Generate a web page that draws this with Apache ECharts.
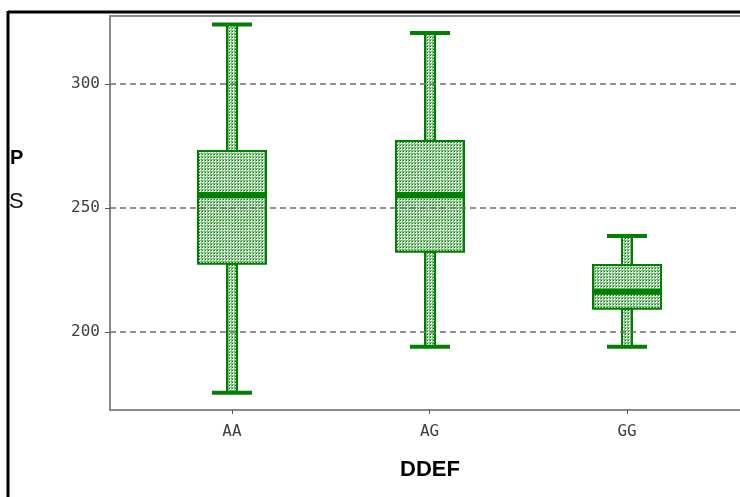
<!DOCTYPE html>
<html><head><meta charset="utf-8">
<script src="https://cdn.jsdelivr.net/npm/echarts@6/dist/echarts.min.js"></script>
<style>html,body{margin:0;padding:0;background:#fff}#c{width:740px;height:497px}</style>
</head><body><div id="c"></div>
<script>
// ---- data ----
const categories = ['AA', 'AG', 'GG'];
const whiskerLow = [175.5, 194, 194];
const q1Values = [227.5, 232.3, 209.3];
const medianValues = [255.2, 255.2, 216.2];
const q3Values = [273, 277, 227];
const whiskerHigh = [324, 320.5, 238.7];
const yTicks = [200, 250, 300];
const xAxisName = 'DDEF';

const GREEN = '#008000';
function makePattern() {
  const c = document.createElement('canvas');
  c.width = 3; c.height = 3;
  const g = c.getContext('2d');
  g.fillStyle = '#ffffff'; g.fillRect(0, 0, 3, 3);
  g.fillStyle = '#7cc47c'; g.fillRect(0, 0, 3, 1); g.fillRect(0, 0, 1, 3);
  g.fillStyle = '#008000'; g.fillRect(1, 1, 1, 1);
  return c;
}
const pattern = { image: makePattern(), repeat: 'repeat' };

const data = categories.map((c, i) => [i + 1, whiskerLow[i], q1Values[i], medianValues[i], q3Values[i], whiskerHigh[i]]);

const chart = echarts.init(document.getElementById('c'), null, { renderer: 'canvas' });
const labelFont = { fontFamily: 'DejaVu Sans Mono, Liberation Mono, monospace', fontSize: 16, color: '#404040' };
const frameColor = '#888888';

chart.setOption({
  animation: false,
  grid: { left: 110, top: 16, right: 0, bottom: 87, show: false },
  xAxis: {
    type: 'value', min: 0.3823, max: 3.572,
    axisLine: { show: true, onZero: false, lineStyle: { color: frameColor, width: 2 } },
    splitLine: { show: false },
    axisTick: { show: true, customValues: [1, 2, 3], length: 4, lineStyle: { color: '#555' } },
    axisLabel: Object.assign({ customValues: [1, 2, 3], formatter: v => categories[Math.round(v) - 1] || '', margin: 14 }, labelFont),
    name: xAxisName, nameLocation: 'middle', nameGap: 49,
    nameTextStyle: { fontFamily: 'Liberation Sans, Arial, sans-serif', fontSize: 22, fontWeight: 'bold', color: '#000', padding: [0, 0, 0, 10] }
  },
  yAxis: {
    type: 'value', min: 168.5, max: 327.4,
    axisLine: { show: true, onZero: false, lineStyle: { color: frameColor, width: 2 } },
    splitLine: { show: false },
    axisTick: { show: true, customValues: yTicks, length: 5, lineStyle: { color: '#555' } },
    axisLabel: Object.assign({ customValues: yTicks, margin: 10 }, labelFont)
  },
  graphic: [
    { type: 'line', shape: { x1: 8, y1: 12, x2: 740, y2: 12 }, style: { stroke: '#000', lineWidth: 3 } },
    { type: 'line', shape: { x1: 8, y1: 11, x2: 8, y2: 497 }, style: { stroke: '#000', lineWidth: 3 } },
    { type: 'line', shape: { x1: 109, y1: 16, x2: 740, y2: 16 }, style: { stroke: frameColor, lineWidth: 2 } },
    { type: 'text', left: 10, top: 148, style: { text: 'P', font: 'bold 20px Liberation Sans, Arial, sans-serif', fill: '#000' } },
    { type: 'text', left: 9, top: 191, style: { text: 'S', font: '22px Liberation Sans, Arial, sans-serif', fill: '#111' } }
  ],
  series: [
    {
      type: 'line', data: [], silent: true,
      markLine: {
        symbol: 'none', silent: true, label: { show: false },
        lineStyle: { color: '#6e6e6e', type: [6, 4], width: 1.5 },
        data: yTicks.map(v => ({ yAxis: v }))
      }
    },
    {
      type: 'custom', data: data, clip: false,
      renderItem: function (params, api) {
        const x = api.value(0);
        const pMin = api.coord([x, api.value(1)]);
        const pQ1 = api.coord([x, api.value(2)]);
        const pMed = api.coord([x, api.value(3)]);
        const pQ3 = api.coord([x, api.value(4)]);
        const pMax = api.coord([x, api.value(5)]);
        const cx = Math.round(pMin[0]);
        const bw = 68, ww = 10, cw = 40;
        const children = [];
        children.push({ type: 'rect', shape: { x: cx - ww / 2, y: pMax[1], width: ww, height: pQ3[1] - pMax[1] },
          style: { fill: pattern, stroke: GREEN, lineWidth: 2 } });
        children.push({ type: 'rect', shape: { x: cx - ww / 2, y: pQ1[1], width: ww, height: pMin[1] - pQ1[1] },
          style: { fill: pattern, stroke: GREEN, lineWidth: 2 } });
        children.push({ type: 'rect', shape: { x: cx - bw / 2, y: pQ3[1], width: bw, height: pQ1[1] - pQ3[1] },
          style: { fill: pattern, stroke: GREEN, lineWidth: 2 } });
        children.push({ type: 'line', shape: { x1: cx - bw / 2, y1: pMed[1], x2: cx + bw / 2, y2: pMed[1] },
          style: { stroke: GREEN, lineWidth: 6 } });
        children.push({ type: 'line', shape: { x1: cx - cw / 2, y1: pMax[1], x2: cx + cw / 2, y2: pMax[1] },
          style: { stroke: GREEN, lineWidth: 4 } });
        children.push({ type: 'line', shape: { x1: cx - cw / 2, y1: pMin[1], x2: cx + cw / 2, y2: pMin[1] },
          style: { stroke: GREEN, lineWidth: 4 } });
        return { type: 'group', children: children };
      }
    }
  ]
});
</script>
</body></html>
